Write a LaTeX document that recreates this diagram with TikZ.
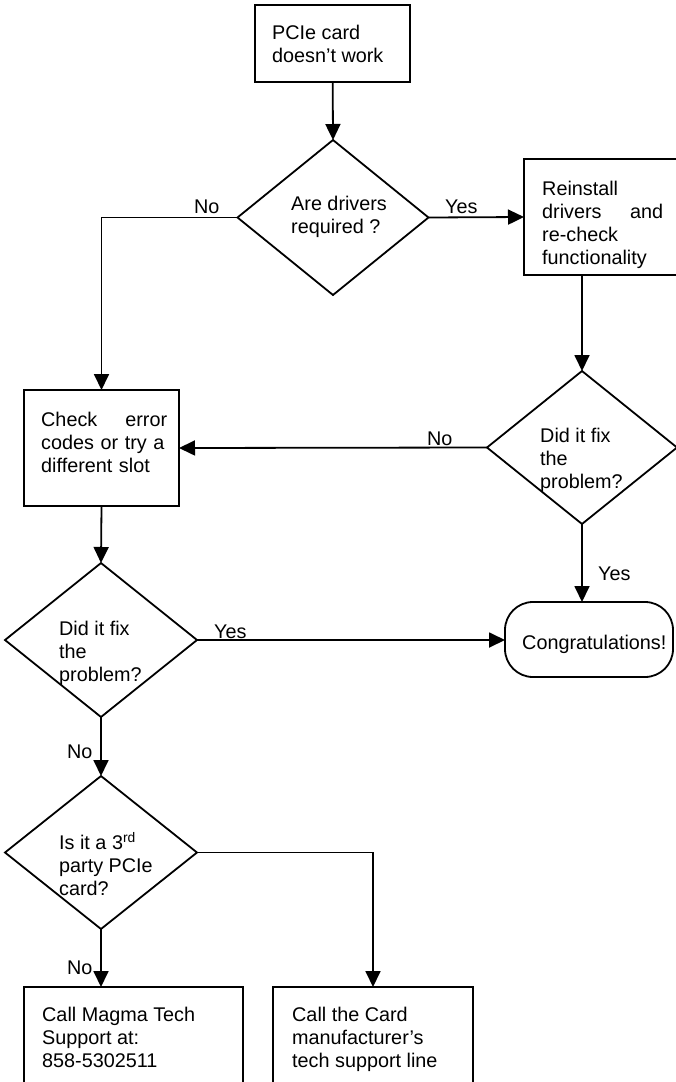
\documentclass[tikz,border=0pt]{standalone}
\usepackage{fontspec}
\setmainfont{Liberation Sans}
\usetikzlibrary{arrows.meta,shapes.geometric}

\begin{document}
\begin{tikzpicture}[x=1pt,y=-1pt,
  box/.style={draw,line width=1.8pt,inner sep=0pt,outer sep=0pt},
  dec/.style={diamond,draw,line width=1.8pt,inner sep=0pt,outer sep=0pt},
  term/.style={draw,line width=1.8pt,rounded corners=28pt,inner sep=0pt,outer sep=0pt},
  txt/.style={font=\fontsize{19.8}{23}\selectfont,align=left,inner sep=0pt,anchor=north west,
    execute at begin node=\strut},
  lbl/.style={font=\fontsize{19.8}{23}\selectfont,inner sep=0pt,anchor=base west},
  arr/.style={-{Triangle[length=16pt,width=15pt]},line width=1.8pt}]
  \useasboundingbox (0,0) rectangle (675,1082);
  % shapes
  \node[box,minimum width=155pt,minimum height=77pt] (start) at (332.5,43.5) {};
  \node[dec,minimum width=191pt,minimum height=155pt] (drv) at (333,217.5) {};
  \node[box,minimum width=176pt,minimum height=116pt] (reinst) at (612,217) {};
  \node[dec,minimum width=190pt,minimum height=153pt] (fixA) at (582,447.5) {};
  \node[box,minimum width=155pt,minimum height=116pt] (slot) at (101.5,448) {};
  \node[term,minimum width=168pt,minimum height=75pt] (congr) at (589,639.5) {};
  \node[dec,minimum width=192pt,minimum height=154pt] (fixB) at (101,640) {};
  \node[dec,minimum width=192pt,minimum height=153pt] (third) at (101,852.5) {};
  \node[box,minimum width=219pt,minimum height=116pt] (magma) at (133.5,1045) {};
  \node[box,minimum width=200pt,minimum height=116pt] (maker) at (373,1045) {};
  % texts
  \node[txt] (tstart) at (272,25) {PCIe card\\doesn’t work};
  \node[txt] (tdrv) at (291,196) {Are drivers\\required ?};
  \node[txt,text width=121pt] (treinst) at (542,179) {Reinstall\\drivers\hfill and\\re-check\\functionality};
  \node[txt] (tfixA) at (540,428) {Did it fix\\the\\problem?};
  \node[txt,text width=126pt] (tslot) at (41,410) {Check\hfill error\\codes or try a\\different slot};
  \node[txt] (tcongr) at (522,633) {Congratulations!};
  \node[txt] (tfixB) at (59,621) {Did it fix\\the\\problem?};
  \node[txt] (tthird) at (59,832) {Is it a 3\textsuperscript{rd}\\party PCIe\\card?};
  \node[txt] (tmagma) at (42,1007) {Call Magma Tech\\Support at:\\858-5302511};
  \node[txt] (tmaker) at (292,1007) {Call the Card\\manufacturer’s\\tech support line};
  % connectors
  \draw[arr] (start) -- (drv.north);
  \draw[arr] (drv.east) -- (reinst.west);
  \draw[arr] (drv.west) -| (slot.north);
  \draw[arr] (reinst.south -| fixA.north) -- (fixA.north);
  \draw[arr] (fixA.west) -- (slot.east);
  \draw[arr] (fixA.south) -- (fixA.south |- congr.north);
  \draw[arr] (slot.south) -- (fixB.north);
  \draw[arr] (fixB.east) -- (fixB.east -| congr.west);
  \draw[arr] (fixB.south) -- (third.north);
  \draw[arr] (third.south) -- (third.south |- magma.north);
  \draw[arr] (third.east) -| (maker.north);
  % labels
  \node[lbl] (lnoA) at (194,213) {No};
  \node[lbl] (lyesA) at (445,213) {Yes};
  \node[lbl] (lnoB) at (427,445) {No};
  \node[lbl] (lyesB) at (598,580) {Yes};
  \node[lbl] (lyesC) at (214,638) {Yes};
  \node[lbl] (lnoC) at (67,758) {No};
  \node[lbl] (lnoD) at (67,974) {No};
\end{tikzpicture}
\end{document}
